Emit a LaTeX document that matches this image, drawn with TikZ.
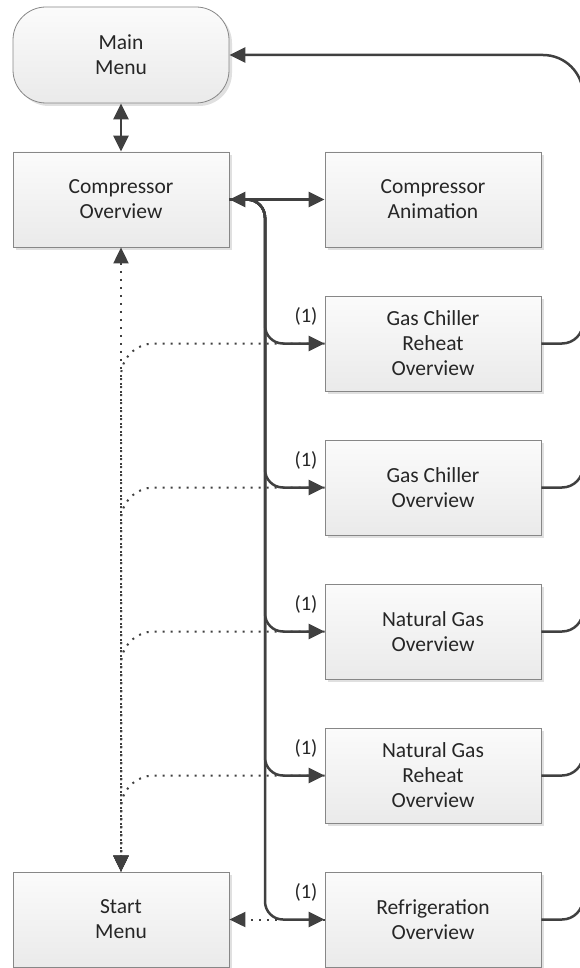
\documentclass[tikz,border=0pt]{standalone}
\usepackage{fontspec}
\setmainfont{Carlito}
\usetikzlibrary{arrows.meta,shadows}
\definecolor{lc}{RGB}{64,64,64}
\definecolor{bc}{RGB}{135,135,135}
\definecolor{tc}{RGB}{38,38,38}
\definecolor{ftop}{RGB}{251,251,251}
\definecolor{fbot}{RGB}{234,234,234}
\begin{document}
\begin{tikzpicture}[x=1pt,y=-1pt,
  box/.style={rectangle, draw=bc, line width=0.8pt, top color=ftop, bottom color=fbot,
    minimum width=216pt, minimum height=95pt, align=center, text=tc,
    font=\fontsize{21.5}{25}\selectfont,
    drop shadow={shadow xshift=3pt, shadow yshift=-3pt, fill=black!12, opacity=1}},
  tipA/.tip={Triangle[length=16pt,width=15pt]},
  conn/.style={draw=lc, line width=2.5pt},
  dots/.style={draw=lc, line width=2pt, dash pattern=on 2pt off 6pt},
  lbl/.style={text=tc, font=\fontsize{20.5}{24}\selectfont, inner sep=0pt}]
\useasboundingbox (0,0) rectangle (580,968);
% nodes
\node[box, rounded corners=33pt, minimum height=96pt] (mm) at (121,55) {Main\\Menu};
\node[box] (co) at (121,199.5) {Compressor\\Overview};
\node[box] (ca) at (433,199.5) {Compressor\\Animation};
\node[box] (gcr) at (433,343.5) {Gas Chiller\\Reheat\\Overview};
\node[box] (gc) at (433,487.5) {Gas Chiller\\Overview};
\node[box] (ng) at (433,631.5) {Natural Gas\\Overview};
\node[box] (ngr) at (433,775.5) {Natural Gas\\Reheat\\Overview};
\node[box] (sm) at (121,919.5) {Start\\Menu};
\node[box] (ro) at (433,919.5) {Refrigeration\\Overview};
% labels
\node[lbl] (l1) at (306,316.5) {(1)};
\node[lbl] (l2) at (306,460.5) {(1)};
\node[lbl] (l3) at (306,604.5) {(1)};
\node[lbl] (l4) at (306,748.5) {(1)};
\node[lbl] (l5) at (306,892.5) {(1)};
% helper coordinates
\coordinate (bx) at (265,0);
\coordinate (rx) at (583,0);
\coordinate (rt) at (583,300);
% dotted connectors
\draw[dots, {tipA}-{tipA}] (co.south) -- (sm.north);
\foreach \n in {gcr,gc,ng,ngr}{
  \draw[dots, -{tipA}, rounded corners=33pt] (\n.west) -- (\n.west -| sm.north) -- (sm.north);
}
\draw[dots, -{tipA}] (ro.west) -- (sm.east);
% solid connectors
\draw[conn, {tipA}-{tipA}] (mm.south) -- (co.north);
\draw[conn, {tipA}-{tipA}] (co.east) -- (ca.west);
\foreach \n in {gcr,gc,ng,ngr,ro}{
  \draw[conn, -{tipA}, rounded corners=18pt] (co.east) -- (co.east -| bx) -- (\n.west -| bx) -- (\n.west);
  \draw[conn, rounded corners=21pt] (\n.east) -- (\n.east -| rx) -- (rt);
}
\draw[conn, -{tipA}, rounded corners=40pt] (rt) -- (rt |- mm.east) -- (mm.east);
\end{tikzpicture}
\end{document}
